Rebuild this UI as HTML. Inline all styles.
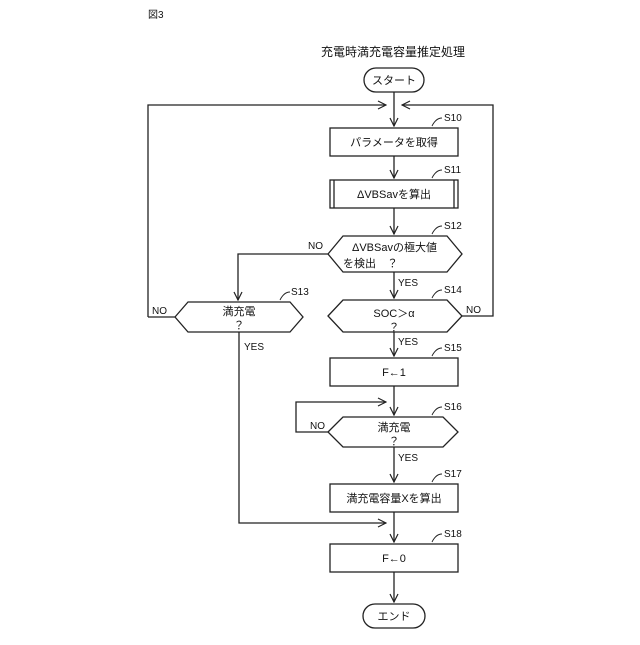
<!DOCTYPE html>
<html><head><meta charset="utf-8"><style>
body{margin:0;background:#fff}
svg text{font-family:"Liberation Sans","Noto Sans CJK JP",sans-serif;fill:#111}
</style></head><body>
<svg width="640" height="640" viewBox="0 0 640 640" xmlns="http://www.w3.org/2000/svg">
<defs><marker id="a" markerWidth="10" markerHeight="10" refX="9" refY="5" orient="auto" markerUnits="userSpaceOnUse"><path d="M1,1 L9,5 L1,9" fill="none" stroke="#222" stroke-width="1.2"/></marker></defs>
<g fill="none" stroke="#222" stroke-width="1.3">
<rect x="364" y="68" width="60" height="24" rx="12"/>
<line x1="394" y1="92" x2="394" y2="126" marker-end="url(#a)"/>
<polyline points="148,317 148,105 386,105" marker-end="url(#a)"/>
<polyline points="462,316 493,316 493,105 402,105" marker-end="url(#a)"/>
<rect x="330" y="128" width="128" height="28"/>
<line x1="394" y1="156" x2="394" y2="178" marker-end="url(#a)"/>
<rect x="330" y="180" width="128" height="28"/>
<line x1="334" y1="180" x2="334" y2="208"/><line x1="454" y1="180" x2="454" y2="208"/>
<line x1="394" y1="208" x2="394" y2="234" marker-end="url(#a)"/>
<polygon points="328,254 343,236 447,236 462,254 447,272 343,272"/>
<polyline points="328,254 238,254 238,300" marker-end="url(#a)"/>
<line x1="394" y1="272" x2="394" y2="298" marker-end="url(#a)"/>
<polygon points="175,317 188,302 290,302 303,317 290,332 188,332"/>
<line x1="148" y1="317" x2="175" y2="317"/>
<polygon points="328,316 343,300 447,300 462,316 447,332 343,332"/>
<line x1="394" y1="332" x2="394" y2="356" marker-end="url(#a)"/>
<rect x="330" y="358" width="128" height="28"/>
<line x1="394" y1="386" x2="394" y2="415" marker-end="url(#a)"/>
<polyline points="328,432 296,432 296,402 386,402" marker-end="url(#a)"/>
<polygon points="328,432 343,417 443,417 458,432 443,447 343,447"/>
<line x1="394" y1="447" x2="394" y2="482" marker-end="url(#a)"/>
<rect x="330" y="484" width="128" height="28"/>
<line x1="394" y1="512" x2="394" y2="542" marker-end="url(#a)"/>
<polyline points="239,332 239,523 386,523" marker-end="url(#a)"/>
<rect x="330" y="544" width="128" height="28"/>
<line x1="394" y1="572" x2="394" y2="602" marker-end="url(#a)"/>
<rect x="363" y="604" width="62" height="24" rx="12"/>
<g stroke-width="0.9">
<path d="M432,126 q4,-8 10,-8"/><path d="M432,178 q4,-8 10,-8"/><path d="M432,234 q4,-8 10,-8"/>
<path d="M280,300 q4,-8 10,-8"/><path d="M432,298 q4,-8 10,-8"/><path d="M432,356 q4,-8 10,-8"/>
<path d="M432,415 q4,-8 10,-8"/><path d="M432,482 q4,-8 10,-8"/><path d="M432,542 q4,-8 10,-8"/>
</g>
</g>
<g font-size="11">
<text x="148" y="18" font-size="10">図3</text>
<text x="393" y="56" text-anchor="middle" font-size="12">充電時満充電容量推定処理</text>
<text x="394" y="84" text-anchor="middle">スタート</text>
<text x="394" y="146" text-anchor="middle">パラメータを取得</text>
<text x="394" y="198" text-anchor="middle">ΔVBSavを算出</text>
<text x="352" y="251">ΔVBSavの極大値</text>
<text x="343" y="267">を検出　？</text>
<text x="239" y="315" text-anchor="middle">満充電</text>
<text x="239" y="329" text-anchor="middle">？</text>
<text x="394" y="317" text-anchor="middle">SOC＞α</text>
<text x="394" y="331" text-anchor="middle">？</text>
<text x="394" y="376" text-anchor="middle">F←1</text>
<text x="394" y="431" text-anchor="middle">満充電</text>
<text x="394" y="445" text-anchor="middle">？</text>
<text x="394" y="502" text-anchor="middle">満充電容量Xを算出</text>
<text x="394" y="562" text-anchor="middle">F←0</text>
<text x="394" y="620" text-anchor="middle">エンド</text>
<g font-size="10">
<text x="444" y="121">S10</text><text x="444" y="173">S11</text><text x="444" y="229">S12</text>
<text x="291" y="295">S13</text><text x="444" y="293">S14</text><text x="444" y="351">S15</text>
<text x="444" y="410">S16</text><text x="444" y="477">S17</text><text x="444" y="537">S18</text>
<text x="308" y="249">NO</text><text x="152" y="314">NO</text><text x="466" y="313">NO</text>
<text x="310" y="429">NO</text>
<text x="398" y="286">YES</text><text x="398" y="345">YES</text><text x="244" y="350">YES</text>
<text x="398" y="461">YES</text>
</g>
</g>
</svg>
</body></html>
